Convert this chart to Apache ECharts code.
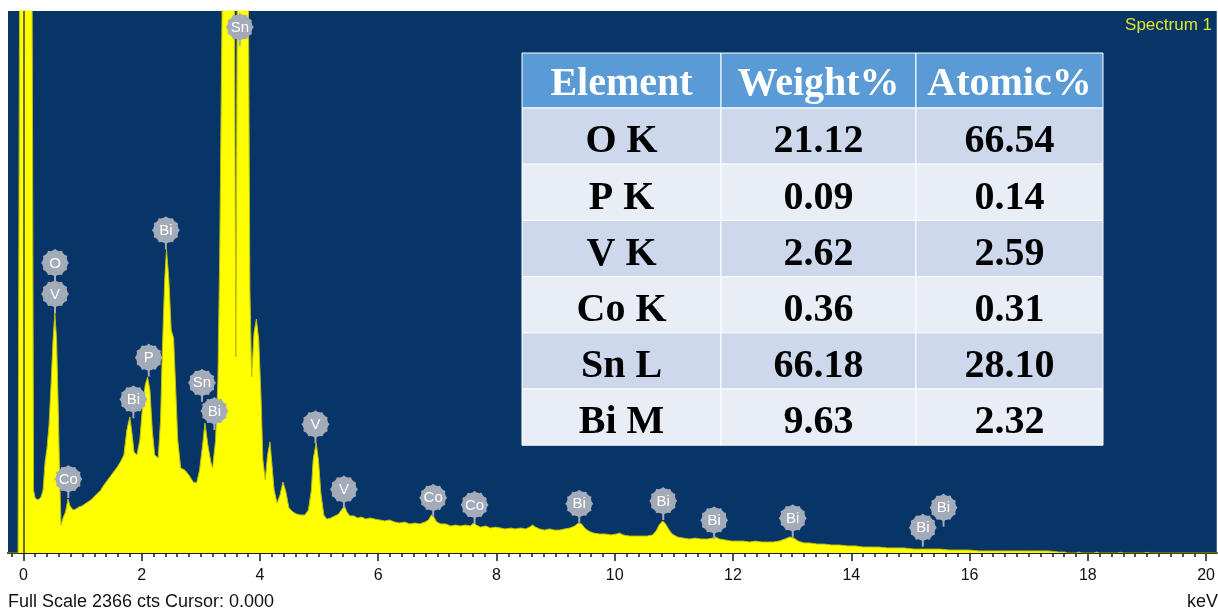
<!DOCTYPE html>
<html>
<head>
<meta charset="utf-8">
<script src="https://cdn.jsdelivr.net/npm/echarts@6/dist/echarts.min.js"></script>
<style>
  html, body { margin: 0; padding: 0; background: #ffffff; }
  #chart { width: 1218px; height: 612px; }
</style>
</head>
<body>
<div id="chart"></div>
<script>
// EDS spectrum: energy (keV) and counts per channel
const spectrum = [
  [-0.26, 0], [-0.09, 0], [-0.064, 2500], [0.147, 2500], [0.172, 275], [0.198, 240],
  [0.248, 231], [0.299, 244], [0.333, 275], [0.367, 397], [0.40, 458], [0.434, 559],
  [0.468, 733], [0.502, 930], [0.532, 1048], [0.561, 930], [0.586, 668], [0.611, 362],
  [0.637, 122], [0.671, 153], [0.713, 179], [0.755, 236], [0.789, 205], [0.84, 188],
  [0.89, 192], [0.94, 201], [0.99, 205], [1.04, 214], [1.09, 223], [1.14, 231],
  [1.19, 244], [1.24, 258], [1.30, 271], [1.35, 292], [1.40, 310], [1.45, 327],
  [1.50, 345], [1.55, 362], [1.60, 380], [1.65, 402], [1.70, 428], [1.75, 537],
  [1.80, 594], [1.84, 515], [1.87, 441], [1.92, 428], [1.97, 493], [2.01, 624],
  [2.06, 733], [2.10, 768], [2.14, 711], [2.18, 537], [2.22, 428], [2.28, 415],
  [2.32, 581], [2.35, 886], [2.39, 1192], [2.42, 1327], [2.46, 1192], [2.50, 973],
  [2.54, 938], [2.57, 755], [2.61, 493], [2.66, 371], [2.73, 362], [2.80, 340],
  [2.87, 310], [2.93, 306], [2.98, 362], [3.04, 493], [3.07, 567], [3.12, 471],
  [3.17, 397], [3.20, 371], [3.25, 493], [3.29, 755], [3.32, 1300], [3.365, 2500],
  [3.568, 2500], [3.593, 856], [3.618, 2500], [3.804, 2500], [3.83, 1150], [3.86, 768],
  [3.90, 960], [3.94, 1021], [3.98, 930], [4.02, 668], [4.05, 406], [4.09, 319],
  [4.13, 428], [4.17, 485], [4.20, 397], [4.24, 275], [4.29, 218], [4.34, 253],
  [4.39, 310], [4.44, 266], [4.49, 196], [4.56, 179], [4.62, 170], [4.69, 166],
  [4.76, 166], [4.82, 188], [4.87, 275], [4.90, 406], [4.95, 480], [4.99, 406],
  [5.03, 262], [5.08, 166], [5.13, 148], [5.20, 153], [5.27, 162], [5.33, 170],
  [5.39, 192], [5.43, 205], [5.47, 179], [5.52, 162], [5.59, 162], [5.65, 153],
  [5.72, 157], [5.79, 148], [5.86, 153], [5.94, 148], [6.03, 144], [6.11, 140],
  [6.19, 144], [6.28, 135], [6.36, 131], [6.45, 135], [6.53, 127], [6.62, 131],
  [6.70, 127], [6.79, 135], [6.85, 144], [6.90, 166], [6.94, 157], [6.99, 135],
  [7.06, 127], [7.14, 127], [7.23, 118], [7.31, 122], [7.39, 118], [7.48, 122],
  [7.56, 118], [7.61, 131], [7.66, 122], [7.73, 113], [7.82, 118], [7.90, 109],
  [7.98, 113], [8.07, 109], [8.15, 105], [8.24, 109], [8.32, 105], [8.41, 109],
  [8.49, 105], [8.56, 113], [8.61, 122], [8.66, 113], [8.73, 105], [8.81, 100],
  [8.90, 105], [8.98, 100], [9.07, 100], [9.15, 105], [9.24, 109], [9.32, 118],
  [9.39, 131], [9.44, 127], [9.49, 109], [9.56, 96], [9.64, 87], [9.74, 83],
  [9.84, 83], [9.94, 79], [10.03, 83], [10.08, 87], [10.14, 79], [10.25, 74],
  [10.35, 74], [10.45, 74], [10.55, 74], [10.64, 79], [10.70, 96], [10.75, 122],
  [10.81, 140], [10.86, 127], [10.91, 105], [10.97, 83], [11.06, 70], [11.16, 65],
  [11.26, 61], [11.36, 65], [11.46, 61], [11.57, 61], [11.65, 65], [11.70, 70],
  [11.77, 61], [11.87, 57], [11.97, 52], [12.07, 52], [12.17, 52], [12.28, 48],
  [12.38, 52], [12.48, 48], [12.58, 48], [12.68, 48], [12.78, 52], [12.88, 61],
  [12.96, 70], [13.03, 65], [13.10, 52], [13.20, 44], [13.30, 44], [13.42, 39],
  [13.54, 39], [13.66, 35], [13.80, 35], [13.93, 31], [14.07, 31], [14.20, 26],
  [14.34, 26], [14.47, 26], [14.61, 22], [14.74, 22], [14.89, 22], [15.05, 17],
  [15.20, 17], [15.35, 17], [15.50, 17], [15.65, 13], [15.82, 13], [15.99, 13],
  [16.16, 9], [16.33, 9], [16.50, 9], [16.67, 9], [16.84, 9], [17.00, 9],
  [17.17, 9], [17.34, 9], [17.51, 4], [17.61, 4], [17.65, 0], [17.80, 0],
  [17.85, 4], [17.90, 0], [18.10, 0], [18.15, 4], [18.20, 0], [18.50, 0],
  [18.55, 3], [18.60, 0], [18.95, 0], [19.00, 3], [19.05, 0], [20.18, 0]
];

// Element line markers: name, energy (keV), stem foot (counts), stacking level
const peakNames  = ['O', 'V', 'Co', 'Bi', 'P', 'Bi', 'Sn', 'Bi', 'Sn', 'V', 'V', 'Co', 'Co', 'Bi', 'Bi', 'Bi', 'Bi', 'Bi', 'Bi'];
const peakKeV    = [0.535, 0.535, 0.76, 1.86, 2.12, 2.41, 3.02, 3.23, 3.66, 4.94, 5.42, 6.93, 7.63, 9.40, 10.82, 11.68, 13.01, 15.21, 15.56];
const peakFoot   = [1048, 1048, 240, 588, 770, 1326, 660, 537, 2213, 479, 195, 158, 127, 132, 144, 60, 69, 28, 115];
const peakLevel  = [1, 0, 0, 0, 0, 0, 0, 0, 0, 0, 0, 0, 0, 0, 0, 0, 0, 0, 0];

// Quantification table
const tableHeader = ['Element', 'Weight%', 'Atomic%'];
const elementRows = ['O K', 'P K', 'V K', 'Co K', 'Sn L', 'Bi M'];
const weightPct   = ['21.12', '0.09', '2.62', '0.36', '66.18', '9.63'];
const atomicPct   = ['66.54', '0.14', '2.59', '0.31', '28.10', '2.32'];

// Axis ticks (keV)
const majorTicks = [0, 2, 4, 6, 8, 10, 12, 14, 16, 18, 20];
const minorTicks = [];
for (let i = -1; i <= 101; i++) minorTicks.push(Math.round(i * 20) / 100);

const fullScale = 2366;
const cursorKeV = 0;
const spectrumTitle = 'Spectrum 1';
const statusText = 'Full Scale ' + fullScale + ' cts Cursor: ' + cursorKeV.toFixed(3);
const unitText = 'keV';

const chart = echarts.init(document.getElementById('chart'), null, { renderer: 'canvas' });

const markerColor = '#a3aab8';

// scalloped disc used for the element tags
function gearPoints(cx, cy) {
  const pts = [];
  const n = 120;
  for (let i = 0; i < n; i++) {
    const a = (i / n) * Math.PI * 2;
    const r = 12.6 + 1.2 * Math.max(0, Math.cos(a * 12));
    pts.push([cx + r * Math.cos(a), cy + r * Math.sin(a)]);
  }
  return pts;
}

function renderMarker(params, api) {
  const p = api.coord([api.value(0), api.value(1)]);
  const level = api.value(2);
  const cy = p[1] - 19 - level * 31;
  return {
    type: 'group',
    children: [
      { type: 'line', shape: { x1: p[0], y1: p[1], x2: p[0], y2: cy },
        style: { stroke: markerColor, lineWidth: 2 } },
      { type: 'polygon', shape: { points: gearPoints(p[0], cy) },
        style: { fill: markerColor } },
      { type: 'text',
        style: { text: peakNames[params.dataIndex], x: p[0], y: cy + 0.5,
                 fill: '#ffffff', font: '15px "Liberation Sans", Arial, sans-serif',
                 align: 'center', verticalAlign: 'middle' } }
    ]
  };
}

// Table layout
const tbl = { left: 522, top: 53, colW: [199, 195, 187], headH: 55, rowH: 56.2 };
const headFill = '#5b9bd5';
const bandFill = ['#cdd8ec', '#e8edf6'];
const serifBold = 'bold 40px "Liberation Serif", "Times New Roman", serif';

const tableEls = [];
(function buildTable() {
  let x = tbl.left;
  tableHeader.forEach((h, c) => {
    tableEls.push({ type: 'rect', shape: { x: x, y: tbl.top, width: tbl.colW[c], height: tbl.headH },
      style: { fill: headFill, stroke: '#ffffff', lineWidth: 1 }, z: 100 });
    tableEls.push({ type: 'text', z: 101,
      style: { text: h, x: x + tbl.colW[c] / 2, y: tbl.top + tbl.headH / 2 + 4,
               fill: '#ffffff', font: serifBold, align: 'center', verticalAlign: 'middle' } });
    x += tbl.colW[c];
  });
  elementRows.forEach((el, r) => {
    const cells = [el, weightPct[r], atomicPct[r]];
    const y = tbl.top + tbl.headH + r * tbl.rowH;
    let cx = tbl.left;
    cells.forEach((t, c) => {
      tableEls.push({ type: 'rect', shape: { x: cx, y: y, width: tbl.colW[c], height: tbl.rowH },
        style: { fill: bandFill[r % 2], stroke: '#ffffff', lineWidth: 1 }, z: 100 });
      tableEls.push({ type: 'text', z: 101,
        style: { text: t, x: cx + tbl.colW[c] / 2, y: y + tbl.rowH / 2 + 6,
                 fill: '#000000', font: serifBold, align: 'center', verticalAlign: 'middle' } });
      cx += tbl.colW[c];
    });
  });
})();

const option = {
  animation: false,
  backgroundColor: '#ffffff',
  grid: { left: 8, right: 0, top: 11, bottom: 59, show: true, backgroundColor: '#083567', borderWidth: 0 },
  xAxis: [
    {
      type: 'value', min: -0.26, max: 20.18, position: 'bottom',
      axisLine: { show: true, onZero: false, lineStyle: { color: '#1a1a1a', width: 2 } },
      axisTick: { show: true, customValues: majorTicks, length: 8, lineStyle: { color: '#1a1a1a', width: 1.5 } },
      axisLabel: { show: true, customValues: majorTicks, fontSize: 16, color: '#111111',
                   fontFamily: '"Liberation Sans", Arial, sans-serif', margin: 15,
                   formatter: (v) => String(v) },
      splitLine: { show: false }
    },
    {
      type: 'value', min: -0.26, max: 20.18, position: 'bottom',
      axisLine: { show: false, onZero: false },
      axisTick: { show: true, customValues: minorTicks, length: 4, lineStyle: { color: '#1a1a1a', width: 1.5 } },
      axisLabel: { show: false },
      splitLine: { show: false }
    }
  ],
  yAxis: { type: 'value', min: 0, max: fullScale, show: false, splitLine: { show: false } },
  series: [
    {
      type: 'line', name: spectrumTitle, data: spectrum, xAxisIndex: 0,
      showSymbol: false, symbol: 'none', clip: true, z: 2,
      lineStyle: { color: '#bdbd12', width: 1 },
      areaStyle: { color: '#ffff00', opacity: 1 },
      markLine: {
        silent: true, symbol: 'none', animation: false,
        label: { show: false },
        lineStyle: { color: '#3b3b22', width: 1.5, type: 'solid' },
        data: [{ xAxis: cursorKeV }]
      }
    },
    {
      type: 'custom', name: 'lines', xAxisIndex: 0, clip: false, z: 5,
      data: peakKeV.map((e, i) => [e, peakFoot[i], peakLevel[i]]),
      renderItem: renderMarker
    }
  ],
  graphic: [
    ...tableEls,
    { type: 'text', z: 50,
      style: { text: spectrumTitle, x: 1212, y: 25, align: 'right', verticalAlign: 'middle',
               fill: '#dfe52a', font: '17px "Liberation Sans", Arial, sans-serif' } },
    { type: 'text', z: 50,
      style: { text: statusText, x: 8, y: 602, align: 'left', verticalAlign: 'middle',
               fill: '#111111', font: '18px "Liberation Sans", Arial, sans-serif' } },
    { type: 'text', z: 50,
      style: { text: unitText, x: 1218, y: 602, align: 'right', verticalAlign: 'middle',
               fill: '#111111', font: '18px "Liberation Sans", Arial, sans-serif' } }
  ]
};

chart.setOption(option);
</script>
</body>
</html>
